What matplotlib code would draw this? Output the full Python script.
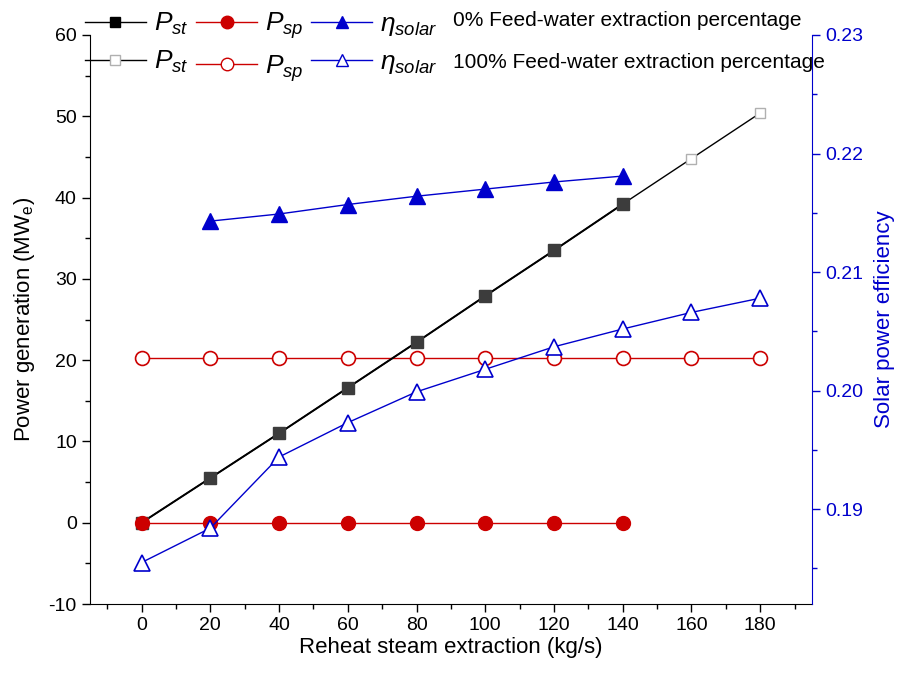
import numpy as np
import matplotlib
matplotlib.use("Agg")
import matplotlib.pyplot as plt
from matplotlib.ticker import MultipleLocator
from matplotlib.lines import Line2D

plt.rcParams['font.family'] = ['Liberation Sans', 'DejaVu Sans']
plt.rcParams['mathtext.fontset'] = 'custom'
plt.rcParams['mathtext.it'] = 'Liberation Sans:italic'
plt.rcParams['mathtext.rm'] = 'Liberation Sans'
plt.rcParams['axes.unicode_minus'] = False

# data
x_0 = [0, 20, 40, 60, 80, 100, 120, 140]
x_100 = [0, 20, 40, 60, 80, 100, 120, 140, 160, 180]

p_st_0 = [0, 5.5, 11.0, 16.6, 22.2, 27.9, 33.5, 39.2]
p_st_100 = [0, 5.5, 11.0, 16.6, 22.2, 27.9, 33.5, 39.2, 44.8, 50.4]

p_sp_0 = [0, 0, 0, 0, 0, 0, 0, 0]
p_sp_100 = [20.3, 20.3, 20.3, 20.3, 20.3, 20.3, 20.3, 20.3, 20.3, 20.3]

x_eta_0 = [20, 40, 60, 80, 100, 120, 140]
eta_0 = [0.2143, 0.2149, 0.2157, 0.2164, 0.2170, 0.2176, 0.2181]
eta_100 = [0.1855, 0.1884, 0.1944, 0.1973, 0.1999, 0.2018, 0.2037, 0.2052, 0.2066, 0.2078]

BLACK = '#000000'
RED = '#CC0000'
BLUE = '#0000CC'

fig = plt.figure(figsize=(8.98, 6.78), dpi=100)
ax = fig.add_axes([0.1002, 0.1091, 0.8038, 0.8393])
ax2 = ax.twinx()

# 100% series (open markers)
ax.plot(x_100, p_st_100, color=BLACK, lw=1, marker='s', ms=7, mfc='white', mec='#b0b0b0', mew=1, zorder=3)
ax.plot(x_100, p_sp_100, color=RED, lw=1, marker='o', ms=10, mfc='white', mec=RED, mew=1.2, zorder=3)
ax2.plot(x_100, eta_100, color=BLUE, lw=1, marker='^', ms=11, mfc='white', mec=BLUE, mew=1.2, zorder=3)

# 0% series (filled markers)
ax.plot(x_0, p_st_0, color=BLACK, lw=1.4, marker='s', ms=9, mfc='#3c3c3c', mec='#3c3c3c', zorder=4)
ax.plot(x_0, p_sp_0, color=RED, lw=1, marker='o', ms=10, mfc=RED, mec=RED, zorder=4)
ax2.plot(x_eta_0, eta_0, color=BLUE, lw=1, marker='^', ms=11, mfc=BLUE, mec=BLUE, zorder=4)

ax.set_xlim(-15, 195)
ax.set_ylim(-10, 60)
ax2.set_ylim(0.182, 0.23)

ax.xaxis.set_major_locator(MultipleLocator(20))
ax.xaxis.set_minor_locator(MultipleLocator(10))
ax.yaxis.set_major_locator(MultipleLocator(10))
ax.yaxis.set_minor_locator(MultipleLocator(5))
ax2.yaxis.set_major_locator(MultipleLocator(0.01))
ax2.yaxis.set_minor_locator(MultipleLocator(0.005))
ax2.yaxis.set_major_formatter(matplotlib.ticker.FormatStrFormatter('%.2f'))

for a in (ax, ax2):
    a.spines['top'].set_visible(False)
ax.spines['right'].set_visible(False)
ax2.spines['left'].set_visible(False)
ax2.spines['bottom'].set_visible(False)
ax2.spines['right'].set_color(BLUE)

ax.tick_params(which='major', direction='out', length=6, width=1, labelsize=14)
ax.tick_params(which='minor', direction='out', length=3.5, width=1)
ax2.tick_params(which='major', direction='out', length=6, width=1, colors=BLUE, labelsize=14)
ax2.tick_params(which='minor', direction='out', length=3.5, width=1, colors=BLUE)

ax.set_xlabel('Reheat steam extraction (kg/s)', fontsize=16, labelpad=2)
ax.set_ylabel('Power generation (MW$_\\mathrm{e}$)', fontsize=16, labelpad=8)
ax2.set_ylabel('Solar power efficiency', fontsize=16, color=BLUE, labelpad=8)

# legend rows
handles = [
    Line2D([], [], color=BLACK, lw=1, marker='s', ms=7, mfc='black', mec='black'),
    Line2D([], [], color=BLACK, lw=1, marker='s', ms=7, mfc='white', mec='#b0b0b0'),
    Line2D([], [], color=RED, lw=1, marker='o', ms=9, mfc=RED, mec=RED),
    Line2D([], [], color=RED, lw=1, marker='o', ms=9, mfc='white', mec=RED),
    Line2D([], [], color=BLUE, lw=1, marker='^', ms=9, mfc=BLUE, mec=BLUE),
    Line2D([], [], color=BLUE, lw=1, marker='^', ms=9, mfc='white', mec=BLUE),
]
labels = ['$P_{st}$', '$P_{st}$', '$P_{sp}$', '$P_{sp}$',
          '$\\eta_{solar}$', '$\\eta_{solar}$']
fig.legend(handles, labels, ncol=3, loc='upper left', bbox_to_anchor=(0.083, 1.0),
           frameon=False, fontsize=19, handlelength=2.3, handletextpad=0.3,
           columnspacing=0.3, labelspacing=0.45, borderaxespad=0)

fig.text(0.504, 0.970, '0% Feed-water extraction percentage', fontsize=15, va='center')
fig.text(0.504, 0.908, '100% Feed-water extraction percentage', fontsize=15, va='center')

fig.savefig('out.png', dpi=100)
